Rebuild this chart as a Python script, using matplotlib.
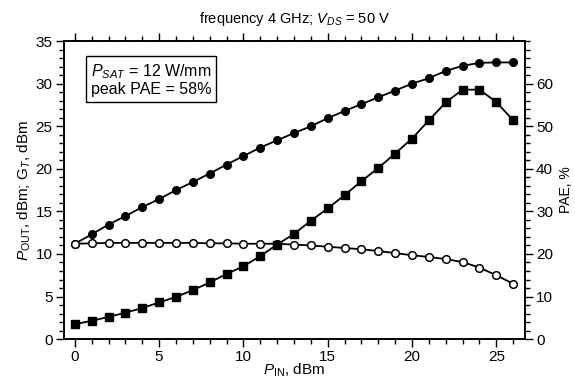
import numpy as np
import matplotlib
matplotlib.use("Agg")
import matplotlib.pyplot as plt
from matplotlib.ticker import MultipleLocator

plt.rcParams['font.family'] = ['Liberation Sans', 'DejaVu Sans']
plt.rcParams['mathtext.fontset'] = 'custom'
plt.rcParams['mathtext.rm'] = 'Liberation Sans'
plt.rcParams['mathtext.it'] = 'Liberation Sans:italic'

# data
p_in = list(range(27))
p_out = [11.2, 12.3, 13.45, 14.45, 15.5, 16.45, 17.5, 18.45, 19.45, 20.5,
         21.5, 22.5, 23.35, 24.2, 25.0, 25.95, 26.8, 27.6, 28.4, 29.2,
         30.0, 30.65, 31.5, 32.1, 32.45, 32.5, 32.5]
gain = [11.2, 11.25, 11.3, 11.3, 11.3, 11.3, 11.3, 11.3, 11.25, 11.25,
        11.2, 11.2, 11.2, 11.1, 11.0, 10.85, 10.7, 10.55, 10.35, 10.1,
        9.85, 9.65, 9.4, 9.05, 8.4, 7.5, 6.5]
pae = [3.5, 4.3, 5.2, 6.2, 7.3, 8.6, 9.9, 11.5, 13.3, 15.3,
       17.1, 19.5, 22.2, 24.7, 27.8, 30.7, 33.8, 37.1, 40.2, 43.6,
       47.1, 51.4, 55.6, 58.6, 58.6, 55.7, 51.4]

fig = plt.figure(figsize=(5.75, 3.81), dpi=100)
ax = fig.add_axes([0.111, 0.110, 0.802, 0.782])
ax2 = ax.twinx()

lw = 1.3
ax.plot(p_in, p_out, '-o', color='black', lw=lw, ms=5.5, mfc='black', zorder=3)
ax.plot(p_in, gain, '-o', color='black', lw=lw, ms=5.5, mfc='white', mew=1.1, zorder=3)
ax2.plot(p_in, pae, '-s', color='black', lw=lw, ms=6, mfc='black', zorder=3)

ax.set_xlim(-0.65, 26.7)
ax.set_ylim(0, 35)
ax2.set_ylim(0, 70)

ax.xaxis.set_major_locator(MultipleLocator(5))
ax.xaxis.set_minor_locator(MultipleLocator(1))
ax.yaxis.set_major_locator(MultipleLocator(5))
ax.yaxis.set_minor_locator(MultipleLocator(1))
ax2.yaxis.set_major_locator(MultipleLocator(10))
ax2.yaxis.set_minor_locator(MultipleLocator(2))
ax2.set_yticks([0, 10, 20, 30, 40, 50, 60])

ax.tick_params(axis='x', which='both', top=True, direction='out', labelsize=11, pad=1.5)
ax.tick_params(axis='y', which='both', direction='out', labelsize=11, pad=2)
ax2.tick_params(axis='y', which='both', direction='out', labelsize=11, pad=2)
for a in (ax, ax2):
    a.tick_params(which='major', length=6, width=1)
    a.tick_params(which='minor', length=3.5, width=1)
    for s in a.spines.values():
        s.set_linewidth(1.2)

# top ticks outward
ax.xaxis.set_ticks_position('both')
for t in ax.xaxis.get_major_ticks() + ax.xaxis.get_minor_ticks():
    t.tick2line.set_marker(matplotlib.lines.TICKUP)

ax.set_xlabel(r'$P_{\rm IN}$, dBm', fontsize=11, labelpad=-1.5)
ax.set_ylabel(r'$P_{\rm OUT}$, dBm; G$_T$, dBm', fontsize=11, labelpad=2)
ax2.set_ylabel('PAE, %', fontsize=10, labelpad=4)
ax.set_title(r'frequency 4 GHz; $V_{DS}$ = 50 V', fontsize=10.5, pad=13)

ax.text(0.189, 0.87, '$P_{SAT}$ = 12 W/mm\npeak PAE = 58%', transform=ax.transAxes,
        ha='center', va='center', fontsize=11.5, linespacing=1.1,
        bbox=dict(boxstyle='square,pad=0.3', fc='white', ec='black', lw=1))

fig.savefig('out.png', dpi=100)
